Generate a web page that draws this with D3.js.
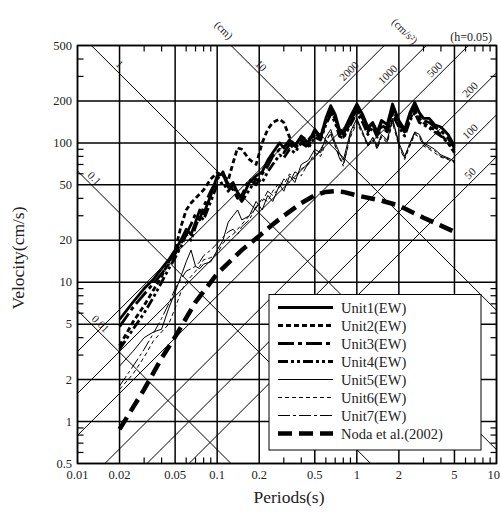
<!DOCTYPE html>
<html><head><meta charset="utf-8">
<script src="https://cdn.jsdelivr.net/npm/d3@7"></script>
<style>body{margin:0;background:#fff}</style>
</head><body><svg id="c" width="501" height="512" font-family="'Liberation Serif', 'DejaVu Serif', serif"></svg>
<script>
const periods = [0.02,0.025,0.03,0.035,0.04,0.045,0.05,0.055,0.06,0.065,0.07,0.075,0.08,0.09,0.1,0.11,0.12,0.13,0.14,0.15,0.17,0.19,0.21,0.23,0.25,0.28,0.3,0.33,0.36,0.4,0.45,0.5,0.55,0.6,0.65,0.7,0.75,0.8,0.9,1.0,1.1,1.2,1.3,1.4,1.5,1.65,1.8,2.0,2.2,2.4,2.6,2.8,3.0,3.3,3.6,4.0,4.5,5.0];
const unit1 = [5.4,7.2,9.0,10.5,12.5,14.5,17,20,24,22,27,33,31,42,58,60,48,52,44,40,52,58,62,75,85,100,92,105,95,112,100,125,110,150,185,160,125,120,155,190,160,130,140,120,145,135,190,145,125,165,195,165,150,150,135,130,115,95];
const unit2 = [3.5,5.2,6.8,8.8,11,14,17,25,33,37,40,43,46,55,61,58,54,72,92,90,76,70,100,125,140,148,140,110,95,110,105,120,112,140,165,150,115,110,140,175,150,120,135,115,135,125,170,135,120,150,170,150,140,130,125,115,100,88];
const unit3 = [4.8,6.6,8.2,9.8,11.5,13.5,16,19,22,26,31,28,35,45,55,62,50,46,40,42,55,50,60,68,80,90,85,98,90,105,95,118,108,145,175,150,120,115,145,180,150,125,140,115,140,128,175,140,120,160,180,155,145,140,130,122,108,92];
const unit4 = [3.3,4.6,6.0,7.8,10,12.5,15,18,22,20,25,30,28,38,50,52,45,50,42,38,46,55,52,62,70,82,78,90,85,100,92,110,105,135,160,140,112,108,135,165,140,115,130,110,130,120,160,130,112,145,165,140,135,128,120,112,100,85];
const unit5 = [2.5,3.2,4.0,4.4,4.6,6.5,8.5,11,14,17,13,12.5,13.5,14,17,20,27,30,33,28,30,38,33,42,38,50,45,58,52,70,75,90,85,110,125,100,85,75,120,150,120,95,110,95,115,105,150,100,80,100,120,115,100,95,90,82,78,74];
const unit6 = [1.7,2.2,2.9,3.8,4.4,5.0,6.5,8.5,10,11,12,13,14.5,15,16,19,21,22,24,26,30,34,40,38,45,52,50,60,55,65,70,85,80,100,120,95,80,70,110,140,115,95,105,90,110,100,140,95,76,95,115,110,95,90,85,79,76,72];
const unit7 = [1.8,2.5,3.3,4.3,5.5,7,9,10.5,12,12.5,13,14,15.5,17,19,21,23,24,22,25,28,35,38,45,42,48,55,52,62,58,72,78,90,105,115,95,78,68,115,145,118,98,108,92,112,102,145,98,78,98,118,112,98,92,88,80,77,73];
const nodaPeriods = [0.02,0.03,0.04,0.05,0.07,0.1,0.15,0.2,0.25,0.3,0.4,0.5,0.6,0.7,0.8,1,1.5,2,3,4,5];
const noda = [0.88,1.7,2.85,4.05,7.2,11.5,17,21.5,26,30,37,42,44.5,45,44.5,42,38.5,35.5,29,25.5,23];
const xTicks = [0.01,0.02,0.05,0.1,0.2,0.5,1,2,5,10];
const xTickLabels = ["0.01","0.02","0.05","0.1","0.2","0.5","1","2","5","10"];
const yTicks = [0.5,1,2,5,10,20,50,100,200,500];
const yTickLabels = ["0.5","1","2","5","10","20","50","100","200","500"];
const dispLines = [0.01,0.1,1,10];
const dispLabels = [{d:0.01,t:0.0135,txt:"0.01"},{d:0.1,t:0.0122,txt:"0.1"},{d:1,t:0.0185,txt:"1"},{d:10,t:0.19,txt:"10"}];
const accLines = [50,100,200,500,1000,2000];
const accLabels = [{a:2000,t:0.95,txt:"2000"},{a:1000,t:1.8,txt:"1000"},{a:500,t:3.9,txt:"500"},{a:200,t:7.0,txt:"200"},{a:100,t:7.0,txt:"100"},{a:50,t:7.0,txt:"50"}];
const seriesNames = ["Unit1(EW)","Unit2(EW)","Unit3(EW)","Unit4(EW)","Unit5(EW)","Unit6(EW)","Unit7(EW)","Noda et al.(2002)"];

const svg = d3.select("#c");
const x = d3.scaleLog().domain([0.01,10]).range([77.5,496.5]);
const y = d3.scaleLog().domain([0.5,500]).range([463.5,45.5]);
const X0=77.5,X1=496.5,Y0=45.5,Y1=463.5;
const FF="'Liberation Serif', 'DejaVu Serif', serif";
const TC="#222";

svg.append("defs").append("clipPath").attr("id","clip").append("rect").attr("x",X0).attr("y",Y0).attr("width",X1-X0).attr("height",Y1-Y0);

const g = svg.append("g");
g.selectAll(".vg").data(xTicks).enter().append("line").attr("x1",d=>x(d)).attr("x2",d=>x(d)).attr("y1",Y0).attr("y2",Y1).attr("stroke","#000").attr("stroke-width",1.5);
g.selectAll(".hg").data(yTicks).enter().append("line").attr("y1",d=>y(d)).attr("y2",d=>y(d)).attr("x1",X0).attr("x2",X1).attr("stroke","#000").attr("stroke-width",1.5);

const mult=[3,4,6,7,8,9];
const xMinor=[];[0.01,0.1,1].forEach(b=>mult.forEach(m=>xMinor.push(b*m)));
const yMinor=[];[0.1,1,10,100].forEach(b=>mult.forEach(m=>{const v=b*m; if(v>0.5&&v<500) yMinor.push(v);}));
const TL=6;
xMinor.forEach(v=>{
  g.append("line").attr("x1",x(v)).attr("x2",x(v)).attr("y1",Y1).attr("y2",Y1-TL).attr("stroke","#000").attr("stroke-width",1.2);
  g.append("line").attr("x1",x(v)).attr("x2",x(v)).attr("y1",Y0).attr("y2",Y0+TL).attr("stroke","#000").attr("stroke-width",1.2);
});
yMinor.forEach(v=>{
  g.append("line").attr("y1",y(v)).attr("y2",y(v)).attr("x1",X0).attr("x2",X0+TL).attr("stroke","#000").attr("stroke-width",1.2);
  g.append("line").attr("y1",y(v)).attr("y2",y(v)).attr("x1",X1).attr("x2",X1-TL).attr("stroke","#000").attr("stroke-width",1.2);
});

const diag = svg.append("g").attr("clip-path","url(#clip)");
const ln = d3.line().x(d=>x(d[0])).y(d=>y(d[1]));
dispLines.forEach(D=>{
  const pts=[0.001,100].map(t=>[t,2*Math.PI*D/t]);
  diag.append("path").attr("d",ln(pts)).attr("fill","none").attr("stroke","#000").attr("stroke-width",1);
});
accLines.forEach(A=>{
  const pts=[0.001,100].map(t=>[t,A*t/(2*Math.PI)]);
  diag.append("path").attr("d",ln(pts)).attr("fill","none").attr("stroke","#000").attr("stroke-width",1);
});

function txt(xx,yy,s,size,rot,anchor){
  const t=svg.append("text").attr("x",xx).attr("y",yy).attr("font-family",FF).attr("font-size",size).attr("fill",TC).attr("text-anchor",anchor||"middle").text(s);
  if(rot) t.attr("transform",`rotate(${rot},${xx},${yy})`).attr("dominant-baseline","central");
  return t;
}
dispLabels.forEach(l=>{
  const px=x(l.t), py=y(2*Math.PI*l.d/l.t);
  txt(px+5,py-5,l.txt,11,45);
});
accLabels.forEach(l=>{
  const px=x(l.t), py=y(l.a*l.t/(2*Math.PI));
  txt(px-5,py-5,l.txt,11,-45);
});
txt(224,30,"(cm)",11,45);
txt(405,31,"(cm/s²)",11,45);
txt(492,41,"(h=0.05)",12,0,"end");

const dataG = svg.append("g").attr("clip-path","url(#clip)");
const units=[unit1,unit2,unit3,unit4,unit5,unit6,unit7];
const styles=[
  {w:2.8,dash:null},
  {w:2.8,dash:"5,3"},
  {w:2.8,dash:"16,4,4,4"},
  {w:2.8,dash:"10,3,3,3,3,3"},
  {w:1,dash:null},
  {w:1,dash:"4,3"},
  {w:1,dash:"12,3,3,3"},
  {w:4.5,dash:"14,7"}
];
units.forEach((u,i)=>{
  const pts=periods.map((t,k)=>[t,u[k]]);
  dataG.append("path").attr("d",ln(pts)).attr("fill","none").attr("stroke","#000").attr("stroke-width",styles[i].w).attr("stroke-dasharray",styles[i].dash).attr("stroke-linejoin","round");
});
dataG.append("path").attr("d",ln(nodaPeriods.map((t,k)=>[t,noda[k]]))).attr("fill","none").attr("stroke","#000").attr("stroke-width",styles[7].w).attr("stroke-dasharray",styles[7].dash);

svg.append("rect").attr("x",X0).attr("y",Y0).attr("width",X1-X0).attr("height",Y1-Y0).attr("fill","none").attr("stroke","#000").attr("stroke-width",1.5);

xTicks.forEach((d,i)=>{
  if(i===xTicks.length-1) txt(500,479,xTickLabels[i],12.5,0,"end");
  else txt(x(d),479,xTickLabels[i],12.5,0,"middle");
});
yTicks.forEach((d,i)=>txt(72,y(d)+4,yTickLabels[i],12.5,0,"end"));

txt(289,503,"Periods(s)",17.5,0,"middle");
svg.append("text").attr("transform","translate(24,258) rotate(-90)").attr("text-anchor","middle").attr("font-family",FF).attr("font-size",17.5).attr("fill",TC).text("Velocity(cm/s)");

const lg=svg.append("g");
lg.append("rect").attr("x",269).attr("y",294.5).attr("width",212).attr("height",155.5).attr("fill","#fff").attr("stroke","#000").attr("stroke-width",1);
seriesNames.forEach((n,i)=>{
  const yy=307.5+18*i;
  lg.append("line").attr("x1",278).attr("x2",333).attr("y1",yy).attr("y2",yy).attr("stroke","#000").attr("stroke-width",styles[i].w).attr("stroke-dasharray",styles[i].dash);
  lg.append("text").attr("x",341).attr("y",yy+5).attr("font-family",FF).attr("font-size",14.5).attr("fill",TC).text(n);
});
</script></body></html>
